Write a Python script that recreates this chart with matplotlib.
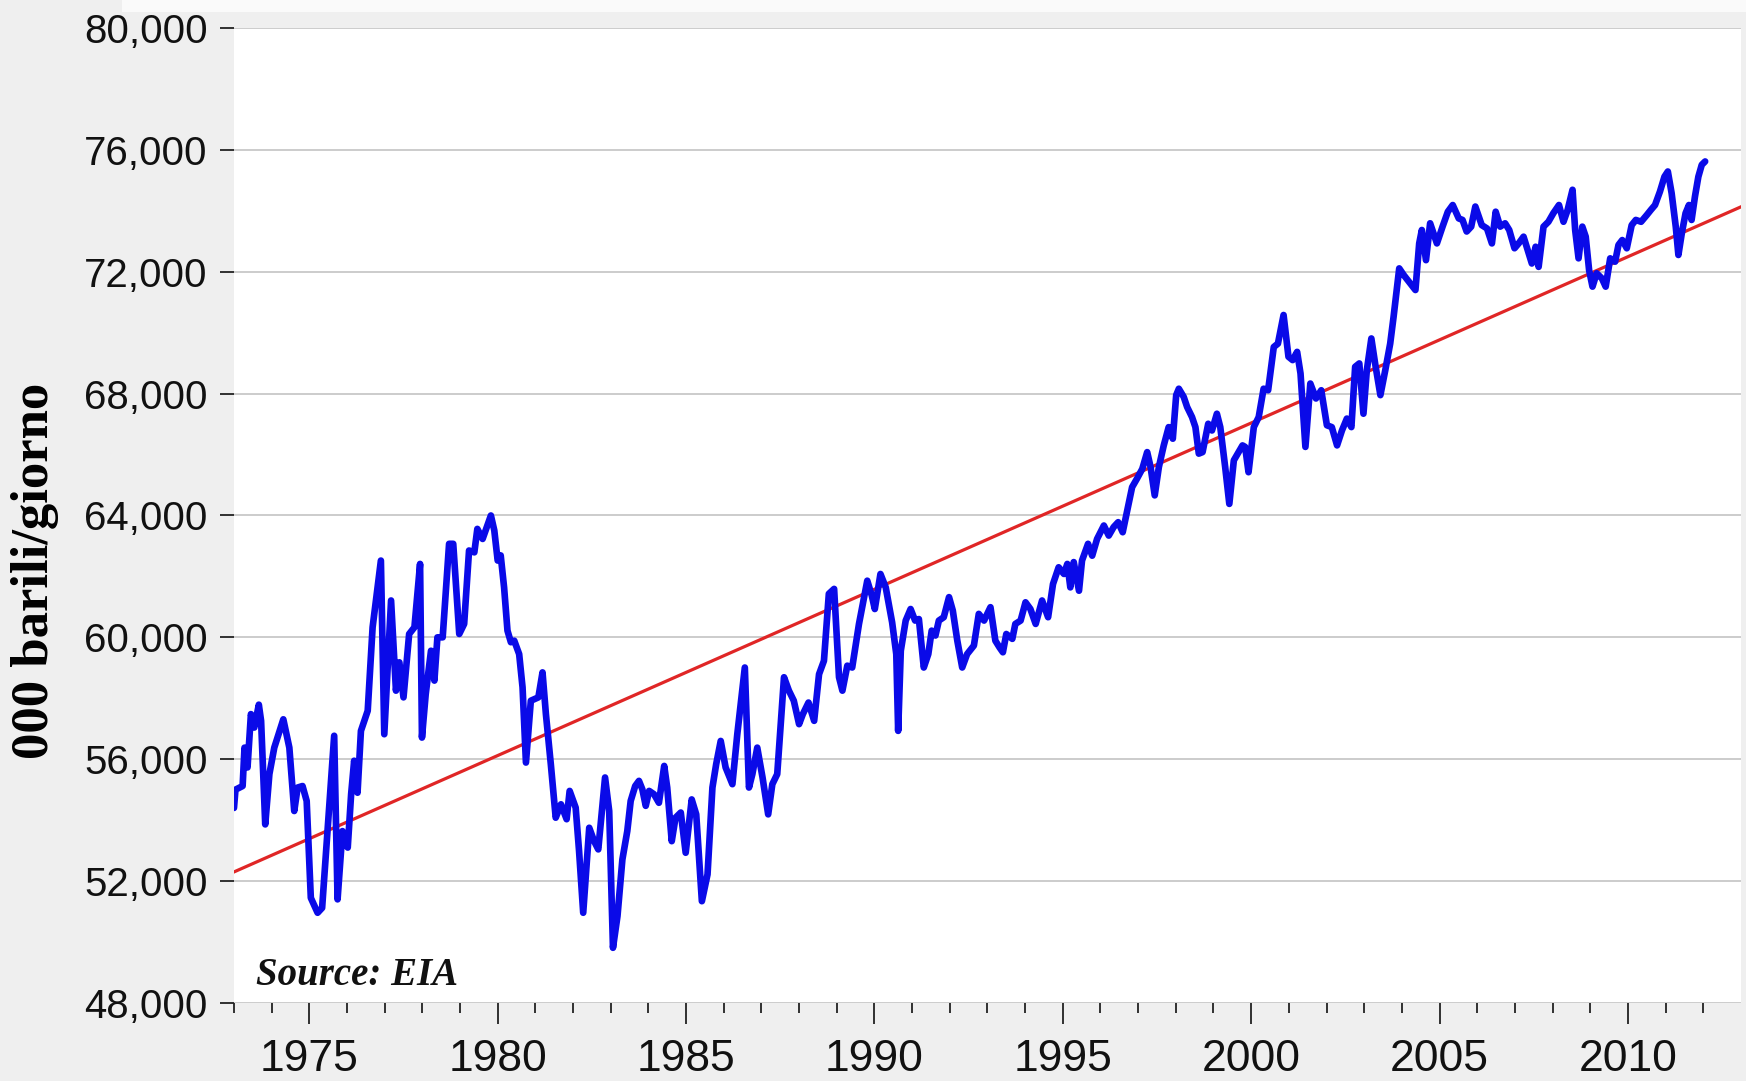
import matplotlib
matplotlib.use("Agg")
import matplotlib.pyplot as plt
from matplotlib.ticker import FuncFormatter, FixedLocator
from matplotlib.patches import Rectangle

# ---- data ----
years = [
    1973.00, 1973.04, 1973.23, 1973.28, 1973.36, 1973.45, 1973.54, 1973.66, 1973.72, 1973.83,
    1973.94, 1974.07, 1974.31, 1974.47, 1974.60, 1974.69, 1974.82, 1974.93, 1975.04, 1975.22,
    1975.34, 1975.44, 1975.66, 1975.75, 1975.88, 1976.02, 1976.11, 1976.19, 1976.28, 1976.37,
    1976.55, 1976.68, 1976.90, 1976.99, 1977.17, 1977.30, 1977.39, 1977.50, 1977.65, 1977.79,
    1977.94, 1977.99, 1978.09, 1978.23, 1978.32, 1978.40, 1978.54, 1978.71, 1978.82, 1978.98,
    1979.11, 1979.24, 1979.38, 1979.46, 1979.60, 1979.82, 1979.91, 1980.00, 1980.08, 1980.17,
    1980.26, 1980.35, 1980.44, 1980.57, 1980.66, 1980.75, 1980.88, 1980.97, 1981.08, 1981.19,
    1981.28, 1981.41, 1981.54, 1981.68, 1981.83, 1981.91, 1982.07, 1982.16, 1982.27, 1982.43,
    1982.56, 1982.67, 1982.85, 1982.96, 1983.06, 1983.18, 1983.31, 1983.44, 1983.53, 1983.65,
    1983.75, 1983.84, 1983.93, 1984.02, 1984.15, 1984.28, 1984.42, 1984.50, 1984.62, 1984.72,
    1984.86, 1984.99, 1985.15, 1985.27, 1985.42, 1985.57, 1985.70, 1985.80, 1985.92, 1986.05,
    1986.23, 1986.36, 1986.56, 1986.67, 1986.76, 1986.89, 1987.03, 1987.18, 1987.29, 1987.42,
    1987.60, 1987.73, 1987.86, 1988.00, 1988.10, 1988.25, 1988.40, 1988.53, 1988.66, 1988.79,
    1988.93, 1989.06, 1989.15, 1989.28, 1989.41, 1989.59, 1989.81, 1989.93, 1990.01, 1990.16,
    1990.30, 1990.47, 1990.58, 1990.63, 1990.70, 1990.83, 1990.96, 1991.08, 1991.18, 1991.31,
    1991.43, 1991.52, 1991.62, 1991.71, 1991.84, 1991.98, 1992.08, 1992.20, 1992.33, 1992.46,
    1992.64, 1992.77, 1992.91, 1993.08, 1993.21, 1993.32, 1993.41, 1993.50, 1993.66, 1993.74,
    1993.88, 1994.01, 1994.14, 1994.28, 1994.45, 1994.61, 1994.74, 1994.89, 1995.03, 1995.12,
    1995.20, 1995.29, 1995.43, 1995.51, 1995.67, 1995.78, 1995.91, 1996.09, 1996.22, 1996.35,
    1996.47, 1996.59, 1996.71, 1996.84, 1996.97, 1997.11, 1997.24, 1997.33, 1997.44, 1997.55,
    1997.68, 1997.81, 1997.92, 1998.01, 1998.08, 1998.21, 1998.30, 1998.43, 1998.52, 1998.61,
    1998.71, 1998.86, 1998.96, 1999.09, 1999.18, 1999.31, 1999.42, 1999.54, 1999.77, 1999.84,
    1999.93, 2000.07, 2000.20, 2000.33, 2000.45, 2000.60, 2000.71, 2000.86, 2000.99, 2001.10,
    2001.22, 2001.31, 2001.44, 2001.57, 2001.72, 2001.86, 2002.01, 2002.14, 2002.28, 2002.41,
    2002.54, 2002.66, 2002.76, 2002.87, 2002.98, 2003.07, 2003.19, 2003.29, 2003.43, 2003.56,
    2003.69, 2003.78, 2003.93, 2004.05, 2004.22, 2004.36, 2004.46, 2004.53, 2004.64, 2004.75,
    2004.93, 2005.08, 2005.22, 2005.35, 2005.51, 2005.61, 2005.72, 2005.84, 2005.95, 2006.12,
    2006.26, 2006.39, 2006.49, 2006.61, 2006.74, 2006.85, 2006.99, 2007.10, 2007.23, 2007.34,
    2007.45, 2007.55, 2007.63, 2007.76, 2007.89, 2008.02, 2008.17, 2008.29, 2008.40, 2008.53,
    2008.60, 2008.69, 2008.79, 2008.88, 2008.97, 2009.06, 2009.17, 2009.31, 2009.41, 2009.53,
    2009.66, 2009.75, 2009.85, 2009.97, 2010.10, 2010.21, 2010.35, 2010.50, 2010.61, 2010.72,
    2010.85, 2010.97, 2011.06, 2011.16, 2011.27, 2011.34, 2011.43, 2011.53, 2011.62, 2011.69,
    2011.78, 2011.87, 2011.96, 2012.05,
]

production = [
    54400, 55000, 55120, 56380, 55730, 57480, 57040, 57790, 57260, 53860,
    55510, 56380, 57310, 56380, 54300, 55070, 55120, 54630, 51450, 50960,
    51120, 52880, 56770, 51400, 53640, 53100, 54850, 55950, 54900, 56930,
    57590, 60330, 62520, 56820, 61210, 58250, 59180, 58030, 60110, 60330,
    62410, 56710, 58140, 59560, 58580, 60000, 60000, 63070, 63070, 60110,
    60440, 62850, 62790, 63560, 63230, 64000, 63510, 62520, 62690, 61640,
    60220, 59840, 59890, 59450, 58360, 55890, 57920, 57970, 58030, 58850,
    57480, 55840, 54080, 54520, 54030, 54960, 54410, 52990, 50960, 53750,
    53310, 53040, 55400, 54300, 49810, 50850, 52710, 53640, 54630, 55120,
    55290, 55010, 54470, 54960, 54850, 54570, 55780, 55070, 53310, 54080,
    54250, 52930, 54680, 54190, 51340, 52220, 55070, 55840, 56600, 55730,
    55180, 56820, 59010, 55070, 55510, 56380, 55400, 54190, 55180, 55510,
    58690, 58250, 57920, 57150, 57480, 57860, 57260, 58790, 59230, 61430,
    61590, 58690, 58250, 59070, 59010, 60440, 61860, 61370, 60930, 62080,
    61640, 60490, 59450, 56930, 59560, 60550, 60930, 60550, 60600, 59010,
    59450, 60220, 60060, 60550, 60660, 61320, 60880, 59890, 59010, 59450,
    59730, 60770, 60550, 60990, 59890, 59670, 59510, 60110, 59950, 60440,
    60550, 61150, 60930, 60440, 61210, 60660, 61750, 62300, 62080, 62410,
    61640, 62470, 61530, 62520, 63070, 62680, 63230, 63670, 63340, 63620,
    63780, 63450, 64160, 64930, 65210, 65530, 66080, 65590, 64660, 65590,
    66300, 66900, 66520, 67950, 68160, 67890, 67560, 67230, 66900, 66030,
    66080, 67010, 66790, 67340, 66900, 65590, 64380, 65810, 66300, 66250,
    65420, 66900, 67230, 68160, 68110, 69530, 69640, 70580, 69210, 69100,
    69370, 68660, 66250, 68330, 67840, 68110, 66960, 66900, 66300, 66790,
    67180, 66900, 68880, 68990, 67340, 68770, 69810, 68990, 67950, 68770,
    69640, 70520, 72110, 71890, 71620, 71400, 72930, 73370, 72380, 73590,
    72930, 73480, 73970, 74190, 73750, 73700, 73320, 73480, 74140, 73530,
    73420, 72930, 73970, 73480, 73590, 73370, 72770, 72930, 73150, 72710,
    72270, 72820, 72160, 73480, 73640, 73920, 74190, 73640, 74030, 74690,
    73370, 72440, 73480, 73150, 72050, 71510, 71950, 71780, 71510, 72440,
    72330, 72880, 73040, 72770, 73530, 73700, 73640, 73860, 74030, 74190,
    74630, 75120, 75290, 74580, 73480, 72550, 73260, 73920, 74190, 73700,
    74470, 75120, 75510, 75620,
]

trend_years = [1973.0, 2013.0]
trend_values = [52300, 74130]

y_ticks = [48000, 52000, 56000, 60000, 64000, 68000, 72000, 76000, 80000]
x_major = [1975, 1980, 1985, 1990, 1995, 2000, 2005, 2010]
x_minor = list(range(1973, 2013))

ylabel_text = "000 barili/giorno"
source_text = "Source: EIA"

# ---- figure ----
fig = plt.figure(figsize=(17.46, 10.81), dpi=100, facecolor="#efefef")
# faint white strip along the very top of the image
fig.patches.append(Rectangle((0.07, 1 - 12 / 1081), 0.93, 12 / 1081,
                             transform=fig.transFigure, facecolor="#fafafa",
                             edgecolor="none", zorder=0))
ax = fig.add_axes([0.1340, 0.0722, 0.8631, 0.9019])
ax.set_facecolor("white")

ax.plot(trend_years, trend_values, color="#e02626", lw=2.3, zorder=3)
ax.plot(years, production, color="#0a0ae8", lw=4.8, solid_joinstyle="round",
        solid_capstyle="round", zorder=4)

ax.set_xlim(1973.0, 2013.0)
ax.set_ylim(48000, 80000)

for s in ax.spines.values():
    s.set_visible(False)

ax.set_yticks(y_ticks)
ax.yaxis.set_major_formatter(FuncFormatter(lambda v, p: f"{int(v):,}"))
ax.grid(axis="y", color="#c8c8c8", lw=1.3, zorder=1)
ax.set_axisbelow(True)

ax.xaxis.set_major_locator(FixedLocator(x_major))
ax.xaxis.set_minor_locator(FixedLocator(x_minor))
ax.tick_params(axis="x", which="major", length=15, width=1.3, color="#222222",
               pad=11, labelsize=32, labelcolor="#111111")
ax.tick_params(axis="x", which="minor", length=7.5, width=1.3, color="#222222")
ax.tick_params(axis="y", which="major", length=10, width=1.3, color="#222222",
               pad=9, labelsize=29, labelcolor="#111111")
for lab in ax.get_xticklabels() + ax.get_yticklabels():
    lab.set_fontfamily("Liberation Sans")

fig.text(35 / 1746, 1 - 571 / 1081, ylabel_text, rotation=90, ha="center", va="center",
         fontsize=38, fontweight="bold", family="Liberation Serif", color="black")

ax.text(0.0146, 0.0185, source_text, transform=ax.transAxes, ha="left", va="baseline",
        fontsize=28, fontweight="bold", fontstyle="italic", family="Liberation Serif",
        color="#111111", zorder=5)

fig.savefig("out.png", dpi=100, facecolor=fig.get_facecolor())
